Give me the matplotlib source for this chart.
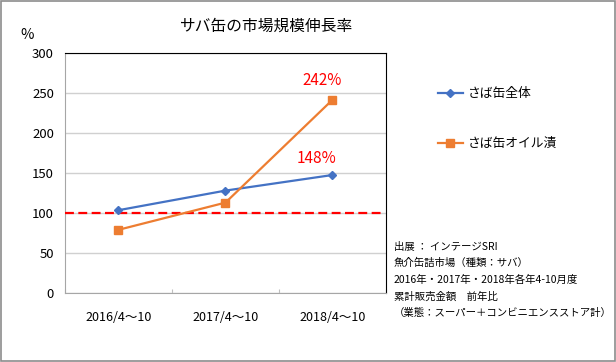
import matplotlib
matplotlib.use("Agg")
import matplotlib.pyplot as plt
from matplotlib.patches import Rectangle

plt.rcParams['font.family'] = ['Noto Sans CJK JP', 'DejaVu Sans']

categories = ["2016/4～10", "2017/4～10", "2018/4～10"]
series_names = ["さば缶全体", "さば缶オイル漬"]
total = [103.5, 128, 147.5]
oil = [79, 113, 241.5]
baseline = 100
labels = ["242%", "148%"]
notes = ["出展 ： インテージSRI",
         "魚介缶詰市場（種類：サバ）",
         "2016年・2017年・2018年各年4-10月度",
         "累計販売金額　前年比",
         "（業態：スーパー＋コンビニエンスストア計）"]

fig = plt.figure(figsize=(6.16, 3.62), dpi=100)
ax = fig.add_axes([0.1055, 0.1906, 0.5211, 0.6630])

x = [i + 0.5 for i in range(len(categories))]
l1, = ax.plot(x, total, color='#4472C4', lw=1.6, marker='D', ms=4.5, label=series_names[0], zorder=4)
l2, = ax.plot(x, oil, color='#ED7D31', lw=1.6, marker='s', ms=5.5, label=series_names[1], zorder=4)
ax.plot([0, 2.96], [baseline, baseline], color='#FF0000', lw=1.6, ls=(0, (4, 2)), zorder=3)

ax.set_xlim(0, 3)
ax.set_ylim(0, 300)
ax.set_yticks(range(0, 301, 50))
ax.set_xticks([0, 1, 2, 3])
ax.set_xticklabels([])
ax.set_xticks(x, minor=True)
ax.set_xticklabels(categories, minor=True)
ax.tick_params(axis='x', which='major', direction='in', length=3, color='#BFBFBF')
ax.tick_params(axis='x', which='minor', length=0, pad=13, labelsize=9)
ax.tick_params(axis='y', length=0, pad=8, labelsize=9.5)
ax.yaxis.grid(True, color='#D0D0D0', lw=1)
ax.set_axisbelow(True)
for s in ['left', 'bottom']:
    ax.spines[s].set_color('#A6A6A6')
for s in ['top', 'right']:
    ax.spines[s].set_color('black')

ax.text(x[2] - 0.1, 265, labels[0], color='#FF0000', fontsize=11, ha='center', va='center')
ax.text(x[2] - 0.15, 168, labels[1], color='#FF0000', fontsize=11, ha='center', va='center')

fig.text(267 / 616, 1 - 26 / 362, "サバ缶の市場規模伸長率", fontsize=11.3, ha='center', va='center')
fig.text(27 / 616, 1 - 35 / 362, "%", fontsize=10.5, ha='center', va='center')

leg = fig.legend(handles=[l1, l2], loc='center left', bbox_to_anchor=(426 / 616, 1 - 118.5 / 362),
                 frameon=False, fontsize=9.2, labelspacing=2.9, handlelength=2.0, handletextpad=0.4)

ys = [247, 263, 280, 297, 313]
for t, yy in zip(notes, ys):
    fig.text(394 / 616, 1 - yy / 362, t, fontsize=7.5, ha='left', va='center')

fig.patches.append(Rectangle((0.001, 0.002), 0.997, 0.995, transform=fig.transFigure,
                             fill=False, ec='#8C8C8C', lw=1.2))

fig.savefig("out.png", dpi=100)
